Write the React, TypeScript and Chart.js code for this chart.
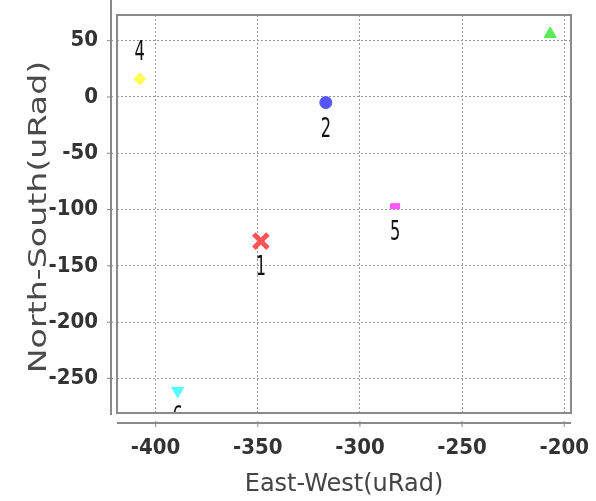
import React, { useEffect, useRef } from "react";
import { Chart, registerables } from "chart.js";

Chart.register(...registerables);

// ---- data ----
const pointNames = ["1", "2", "3", "4", "5", "6"];
const eastWest = [-348.5, -316.7, -206.9, -407.8, -282.8, -389.2];
const northSouth = [-128, -5, 56, 16, -97, -261];
const xTickStep = 50;
const yTickStep = 50;
const xRange = [-418.9, -196.7];
const yRange = [-280.7, 72.8];
const namesAbove = ["3", "4"];
const xTitle = "East-West(uRad)";
const yTitle = "North-South(uRad)";

// ---- styles ----
const pointColors = ["#ff5555", "#5555ff", "#55ee55", "#ffff55", "#ff55ff", "#55ffff"];
const pointShapes = ["crossRot", "circle", "triangle", "rectRot", "line", "triangle"];
const pointRotations = [0, 0, 0, 0, 0, 180];
const pointSizes = [10, 6, 7, 6, 5, 7];
const pointBorders = [5, 1, 1, 1, 6, 1];

const COND = "'DejaVu Sans Condensed', 'DejaVu Sans', sans-serif";
const REG = "'DejaVu Sans', sans-serif";
const NARROW = "'Liberation Sans Narrow', 'DejaVu Sans Condensed', sans-serif";

const labelPlugin = {
  id: "pointLabels",
  afterDatasetsDraw(chart: any) {
    const { ctx, chartArea } = chart;
    ctx.save();
    ctx.beginPath();
    ctx.rect(chartArea.left, chartArea.top, chartArea.right - chartArea.left, chartArea.bottom - chartArea.top);
    ctx.clip();
    ctx.fillStyle = "#111";
    ctx.font = `18px ${COND}`;
    ctx.textAlign = "center";
    ctx.textBaseline = "middle";
    chart.data.datasets.forEach((ds: any, i: number) => {
      const meta = chart.getDatasetMeta(i);
      const el = meta.data[0];
      if (!el) return;
      const name = ds.label;
      const dy = namesAbove.includes(name) ? -26 : 27;
      ctx.save();
      ctx.translate(el.x, el.y + dy);
      ctx.scale(1, 1.5);
      ctx.fillText(name, 0, 0);
      ctx.restore();
    });
    ctx.restore();
  },
};

const framePlugin = {
  id: "frame",
  afterDraw(chart: any) {
    const { ctx, chartArea } = chart;
    const { left, right, top, bottom } = chartArea;
    ctx.save();
    ctx.strokeStyle = "#8a8a8a";
    ctx.lineWidth = 2;
    ctx.strokeRect(left, top, right - left, bottom - top);
    const ax = left - 6;
    const ay = bottom + 10;
    ctx.beginPath();
    ctx.moveTo(ax, 0);
    ctx.lineTo(ax, bottom + 2);
    ctx.moveTo(left, ay);
    ctx.lineTo(right, ay);
    ctx.stroke();
    ctx.lineWidth = 1;
    ctx.beginPath();
    const ys = chart.scales.y;
    ys.ticks.forEach((t: any) => {
      const p = ys.getPixelForValue(t.value);
      ctx.moveTo(ax - 4, p);
      ctx.lineTo(ax + 2, p);
    });
    const xs = chart.scales.x;
    xs.ticks.forEach((t: any) => {
      const p = xs.getPixelForValue(t.value);
      ctx.moveTo(p, ay - 2);
      ctx.lineTo(p, ay + 4);
    });
    ctx.stroke();

    // y axis title (stretched along its length like the reference)
    ctx.fillStyle = "#4a4a4a";
    ctx.font = `25px ${REG}`;
    ctx.textAlign = "center";
    ctx.textBaseline = "middle";
    ctx.translate(39, (top + bottom) / 2 + 3);
    ctx.rotate(-Math.PI / 2);
    ctx.scale(1.33, 1);
    ctx.fillText(yTitle, 0, 0);
    ctx.restore();
  },
};

export default function App() {
  const ref = useRef<HTMLCanvasElement>(null);
  useEffect(() => {
    if (!ref.current) return;
    const datasets = pointNames.map((name, i) => ({
      label: name,
      data: [{ x: eastWest[i], y: northSouth[i] }],
      pointStyle: pointShapes[i],
      rotation: pointRotations[i],
      backgroundColor: pointColors[i],
      borderColor: pointColors[i],
      pointRadius: pointSizes[i],
      pointBorderWidth: pointBorders[i],
    }));
    const tickFont = { family: NARROW, size: 22, weight: "bold" as const };
    const chart = new Chart(ref.current, {
      type: "scatter",
      data: { datasets },
      plugins: [labelPlugin, framePlugin],
      options: {
        animation: false,
        responsive: true,
        maintainAspectRatio: false,
        layout: { padding: { top: 11, right: 25, left: 0, bottom: 0 } },
        plugins: { legend: { display: false }, tooltip: { enabled: false } },
        scales: {
          x: {
            type: "linear",
            min: xRange[0],
            max: xRange[1],
            afterFit: (s: any) => {
              s.height = 88;
              s.paddingLeft = 0;
              s.paddingRight = 0;
            },
            ticks: {
              stepSize: xTickStep,
              includeBounds: false,
              padding: 22,
              color: "#333",
              font: tickFont,
            },
            grid: { color: "#9a9a9a", lineWidth: 1, drawTicks: false },
            border: { display: false, dash: [2, 2] },
            title: {
              display: true,
              text: xTitle,
              color: "#444",
              font: { family: REG, size: 24 },
              padding: { top: 0, bottom: 2 },
            },
          },
          y: {
            type: "linear",
            min: yRange[0],
            max: yRange[1],
            afterFit: (s: any) => {
              s.width = 117;
              s.paddingTop = 0;
              s.paddingBottom = 0;
            },
            ticks: {
              stepSize: yTickStep,
              includeBounds: false,
              padding: 19,
              color: "#333",
              font: tickFont,
            },
            grid: { color: "#9a9a9a", lineWidth: 1, drawTicks: false },
            border: { display: false, dash: [2, 2] },
            title: { display: false, text: yTitle },
          },
        },
      },
    });
    return () => chart.destroy();
  }, []);
  return (
    <div style={{ position: "fixed", left: 0, top: 0, width: 596, height: 501, background: "#fff" }}>
      <canvas ref={ref} />
    </div>
  );
}
